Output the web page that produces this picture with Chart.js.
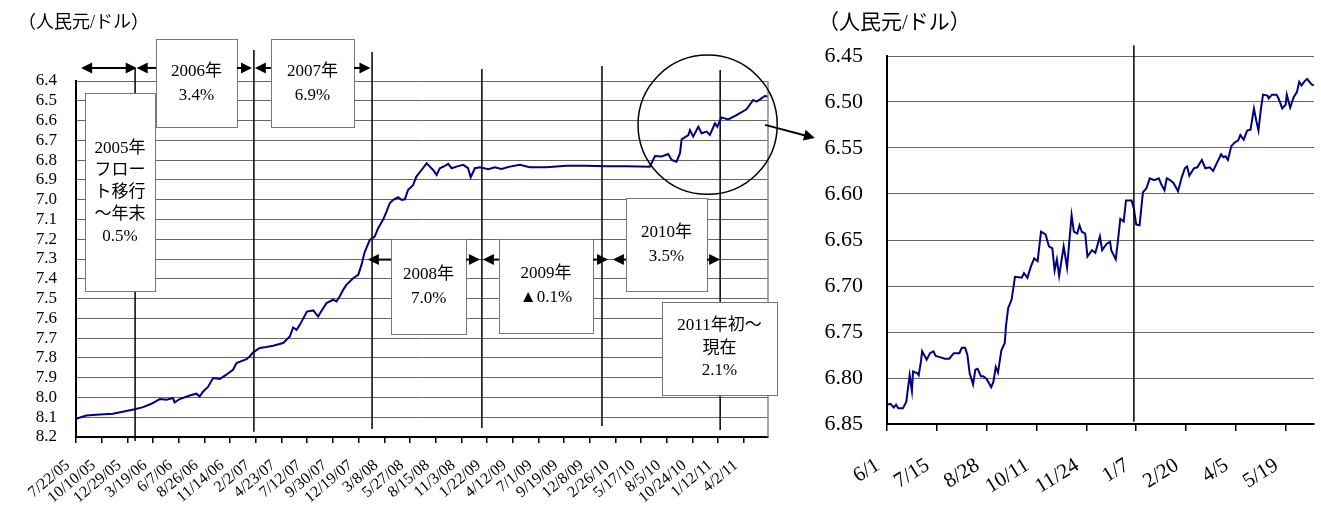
<!DOCTYPE html>
<html>
<head>
<meta charset="utf-8">
<script src="https://cdn.jsdelivr.net/npm/chart.js@4"></script>
<style>
  body { margin: 0; background: #fff; width: 1321px; height: 512px; position: relative; overflow: hidden; }
  canvas { position: absolute; top: 0; }
  #right { left: 800px; }
  #left { left: 0; }
</style>
</head>
<body>
<canvas id="right" width="521" height="512"></canvas>
<canvas id="left" width="820" height="512"></canvas>
<script>
// Left chart: days since 7/22/05, rate in yuan per dollar
var leftDays = [0, 32, 74, 115, 157, 183, 209, 235, 261, 282, 302, 307, 323, 354, 375, 385, 396, 411, 427, 448,
  468, 489, 500, 531, 541, 551, 572, 593, 614, 645, 666, 676, 687, 697, 719, 739, 754, 760, 780, 801,
  811, 821, 832, 842, 863, 879, 889, 899, 915, 930, 941, 956, 967, 977, 988, 1003, 1014, 1024, 1034, 1050,
  1060, 1076, 1092, 1102, 1112, 1123, 1133, 1149, 1159, 1170, 1185, 1206, 1221, 1229, 1242, 1258, 1284, 1304, 1325, 1351,
  1382, 1413, 1465, 1528, 1590, 1652, 1715, 1787, 1803, 1824, 1844, 1855, 1870, 1881, 1886, 1907, 1912, 1922, 1938, 1948,
  1964, 1974, 1990, 1997, 2010, 2031, 2057, 2088, 2109, 2120, 2130, 2145, 2155];
var leftRates = [8.108, 8.091, 8.086, 8.082, 8.069, 8.060, 8.049, 8.032, 8.008, 8.012, 8.003, 8.025, 8.008, 7.990, 7.981, 7.995, 7.970, 7.947, 7.902, 7.907,
  7.885, 7.860, 7.826, 7.806, 7.793, 7.773, 7.750, 7.745, 7.739, 7.725, 7.692, 7.646, 7.658, 7.633, 7.566, 7.560, 7.591, 7.574, 7.523, 7.506,
  7.515, 7.490, 7.456, 7.431, 7.397, 7.380, 7.330, 7.265, 7.203, 7.187, 7.144, 7.102, 7.060, 7.018, 7.001, 6.988, 7.001, 6.998, 6.951, 6.925,
  6.883, 6.850, 6.816, 6.833, 6.850, 6.875, 6.841, 6.829, 6.819, 6.841, 6.833, 6.824, 6.841, 6.887, 6.841, 6.836, 6.846, 6.836, 6.845, 6.833,
  6.824, 6.836, 6.836, 6.829, 6.829, 6.831, 6.831, 6.833, 6.779, 6.782, 6.769, 6.799, 6.808, 6.765, 6.695, 6.673, 6.648, 6.681, 6.631, 6.664,
  6.656, 6.673, 6.614, 6.631, 6.584, 6.594, 6.572, 6.543, 6.496, 6.504, 6.493, 6.476, 6.479];
var leftTickLabels = ['7/22/05', '10/10/05', '12/29/05', '3/19/06', '6/7/06', '8/26/06', '11/14/06', '2/2/07', '4/23/07',
  '7/12/07', '9/30/07', '12/19/07', '3/8/08', '5/27/08', '8/15/08', '11/3/08', '1/22/09', '4/12/09', '7/1/09',
  '9/19/09', '12/8/09', '2/26/10', '5/17/10', '8/5/10', '10/24/10', '1/12/11', '4/2/11'];
var leftYLabels = ['6.4', '6.5', '6.6', '6.7', '6.8', '6.9', '7.0', '7.1', '7.2', '7.3', '7.4', '7.5', '7.6', '7.7', '7.8', '7.9', '8.0', '8.1', '8.2'];

// Right chart: days since 6/1/10
var rightDays = [0, 3, 6, 8, 10, 14, 17, 20, 22, 23, 27, 28, 30, 31, 35, 38, 41, 43, 46, 51,
  55, 59, 64, 66, 69, 71, 73, 76, 78, 80, 83, 85, 88, 92, 94, 96, 98, 101, 104, 105,
  107, 110, 113, 119, 121, 124, 127, 130, 133, 136, 140, 143, 146, 148, 150, 152, 156, 159, 163, 165,
  168, 170, 172, 175, 177, 181, 184, 188, 190, 194, 197, 198, 202, 204, 206, 209, 211, 216, 218, 220,
  223, 226, 229, 232, 236, 240, 242, 245, 247, 250, 253, 257, 260, 263, 265, 267, 271, 274, 278, 281,
  285, 288, 291, 295, 297, 299, 301, 304, 307, 310, 312, 315, 318, 321, 324, 326, 328, 330, 332, 336,
  337, 340, 344, 346, 349, 352, 353, 356, 359, 362, 364, 366, 369, 371, 373, 375, 377];
var rightRates = [6.829, 6.828, 6.832, 6.829, 6.833, 6.833, 6.826, 6.797, 6.814, 6.793, 6.795, 6.797, 6.782, 6.771, 6.780, 6.773, 6.771, 6.776, 6.777, 6.779,
  6.779, 6.773, 6.773, 6.767, 6.767, 6.775, 6.795, 6.807, 6.791, 6.790, 6.798, 6.798, 6.801, 6.810, 6.804, 6.788, 6.794, 6.770, 6.762, 6.744,
  6.724, 6.715, 6.690, 6.691, 6.686, 6.691, 6.679, 6.670, 6.673, 6.641, 6.644, 6.657, 6.659, 6.683, 6.671, 6.689, 6.657, 6.680, 6.623, 6.641,
  6.643, 6.634, 6.641, 6.643, 6.668, 6.661, 6.664, 6.646, 6.661, 6.654, 6.652, 6.661, 6.671, 6.650, 6.627, 6.630, 6.607, 6.607, 6.616, 6.633,
  6.634, 6.598, 6.594, 6.583, 6.585, 6.583, 6.589, 6.596, 6.583, 6.585, 6.588, 6.597, 6.583, 6.572, 6.570, 6.580, 6.572, 6.571, 6.563, 6.572,
  6.571, 6.575, 6.567, 6.557, 6.560, 6.559, 6.563, 6.548, 6.544, 6.542, 6.536, 6.541, 6.531, 6.530, 6.507, 6.520, 6.531, 6.509, 6.492, 6.493,
  6.496, 6.492, 6.492, 6.497, 6.507, 6.503, 6.492, 6.506, 6.495, 6.489, 6.478, 6.482, 6.477, 6.475, 6.478, 6.481, 6.482];
var rightTickLabels = ['6/1', '7/15', '8/28', '10/11', '11/24', '1/7', '2/20', '4/5', '5/19'];
var rightYLabels = ['6.45', '6.50', '6.55', '6.60', '6.65', '6.70', '6.75', '6.80', '6.85'];

var unitTitle = '（人民元/ドル）';
var FONT = '"Liberation Serif", "Noto Sans CJK JP", serif';

// Annotations of the left chart (in days / rate units)
var periodBoxes = [
  { lines: ['2005年', 'フロー', 'ト移行', '～年末', '0.5%'], d0: 28, d1: 246, v0: 6.461, v1: 7.462, lh: 22 },
  { lines: ['2006年', '3.4%'], d0: 249, d1: 501, v0: 6.188, v1: 6.633, lh: 24 },
  { lines: ['2007年', '6.9%'], d0: 607, d1: 866, v0: 6.188, v1: 6.633, lh: 24 },
  { lines: ['2008年', '7.0%'], d0: 981, d1: 1215, v0: 7.199, v1: 7.679, lh: 24 },
  { lines: ['2009年', '▲0.1%'], d0: 1317, d1: 1610, v0: 7.199, v1: 7.674, lh: 24 },
  { lines: ['2010年', '3.5%'], d0: 1713, d1: 1965, v0: 6.992, v1: 7.462, lh: 24 },
  { lines: ['2011年初～', '現在', '2.1%'], d0: 1825, d1: 2183, v0: 7.517, v1: 7.988, lh: 22.5 }
];
var periodArrows = [
  { v: 6.334, a: 16, b: 189, left: true, right: true },
  { v: 6.334, a: 189, b: 249, left: true },
  { v: 6.334, a: 501, b: 548, right: true },
  { v: 6.334, a: 557, b: 607, left: true },
  { v: 6.334, a: 866, b: 917, right: true },
  { v: 7.303, a: 909, b: 981, left: true },
  { v: 7.303, a: 1215, b: 1258, right: true },
  { v: 7.303, a: 1267, b: 1317, left: true },
  { v: 7.303, a: 1610, b: 1657, right: true },
  { v: 7.303, a: 1672, b: 1713, left: true },
  { v: 7.303, a: 1965, b: 2006, right: true }
];
var yearLines = [
  { d: 184, v0: 6.334, v1: 8.22 },
  { d: 554, v0: 6.243, v1: 8.174 },
  { d: 922, v0: 6.253, v1: 8.159 },
  { d: 1264, v0: 6.339, v1: 8.154 },
  { d: 1638, v0: 6.324, v1: 8.144 },
  { d: 2006, v0: 6.344, v1: 8.164 }
];
var zoomCircle = { d: 1967, v: 6.621, r: 69.6 };
var zoomPointer = { d0: 2146, v0: 6.622, d1: 2301, v1: 6.688 };
var rightYearLine = { d: 218, v0: 6.4384, v1: 6.8475 };

function toPoints(days, rates) {
  return days.map(function (d, i) { return { x: d, y: rates[i] }; });
}

function arrowHead(ctx, x, y, dir) {
  ctx.beginPath();
  ctx.moveTo(x, y);
  ctx.lineTo(x - dir * 11, y - 5.5);
  ctx.lineTo(x - dir * 11, y + 5.5);
  ctx.closePath();
  ctx.fill();
}

function drawTitle(ctx, x, size) {
  ctx.save();
  ctx.fillStyle = '#000';
  ctx.font = size + 'px ' + FONT;
  ctx.textBaseline = 'middle';
  ctx.fillText(unitTitle, x, 23);
  ctx.restore();
}

// Year separators go under the line, boxes and arrows on top
var leftDecor = {
  id: 'leftDecor',
  beforeDatasetsDraw: function (chart) {
    var ctx = chart.ctx, x = chart.scales.x, y = chart.scales.y;
    ctx.save();
    ctx.strokeStyle = '#000';
    ctx.lineWidth = 1.5;
    yearLines.forEach(function (l) {
      var px = x.getPixelForValue(l.d);
      ctx.beginPath();
      ctx.moveTo(px, y.getPixelForValue(l.v0));
      ctx.lineTo(px, y.getPixelForValue(l.v1));
      ctx.stroke();
    });
    ctx.restore();
  },
  afterDraw: function (chart) {
    var ctx = chart.ctx, x = chart.scales.x, y = chart.scales.y, area = chart.chartArea;
    ctx.save();
    // right frame of the plot
    ctx.strokeStyle = '#888';
    ctx.lineWidth = 1.5;
    ctx.beginPath();
    ctx.moveTo(area.right, area.top);
    ctx.lineTo(area.right, area.bottom);
    ctx.stroke();

    // boxes with the yearly change
    periodBoxes.forEach(function (b) {
      var x0 = x.getPixelForValue(b.d0), x1 = x.getPixelForValue(b.d1);
      var y0 = y.getPixelForValue(b.v0), y1 = y.getPixelForValue(b.v1);
      ctx.fillStyle = '#fff';
      ctx.fillRect(x0, y0, x1 - x0, y1 - y0);
      ctx.strokeStyle = '#777';
      ctx.lineWidth = 1;
      ctx.strokeRect(Math.round(x0) + 0.5, Math.round(y0) + 0.5, Math.round(x1 - x0), Math.round(y1 - y0));
      ctx.fillStyle = '#000';
      ctx.font = '17px ' + FONT;
      ctx.textAlign = 'center';
      ctx.textBaseline = 'middle';
      var cy = (y0 + y1) / 2 - (b.lines.length - 1) * b.lh / 2;
      b.lines.forEach(function (t, i) {
        ctx.fillText(t, (x0 + x1) / 2, cy + i * b.lh);
      });
    });

    // period arrows
    ctx.strokeStyle = '#000';
    ctx.fillStyle = '#000';
    ctx.lineWidth = 2;
    periodArrows.forEach(function (a) {
      var xa = x.getPixelForValue(a.a), xb = x.getPixelForValue(a.b), py = y.getPixelForValue(a.v);
      ctx.beginPath();
      ctx.moveTo(xa + (a.left ? 6 : 0), py);
      ctx.lineTo(xb - (a.right ? 6 : 0), py);
      ctx.stroke();
      if (a.left) arrowHead(ctx, xa, py, -1);
      if (a.right) arrowHead(ctx, xb, py, 1);
    });

    // circle around the recent period and its pointer
    ctx.lineWidth = 1.5;
    ctx.beginPath();
    ctx.arc(x.getPixelForValue(zoomCircle.d), y.getPixelForValue(zoomCircle.v), zoomCircle.r, 0, Math.PI * 2);
    ctx.stroke();
    var px0 = x.getPixelForValue(zoomPointer.d0), py0 = y.getPixelForValue(zoomPointer.v0);
    var px1 = x.getPixelForValue(zoomPointer.d1), py1 = y.getPixelForValue(zoomPointer.v1);
    var ang = Math.atan2(py1 - py0, px1 - px0);
    ctx.lineWidth = 2;
    ctx.beginPath();
    ctx.moveTo(px0, py0);
    ctx.lineTo(px1 - 8 * Math.cos(ang), py1 - 8 * Math.sin(ang));
    ctx.stroke();
    ctx.translate(px1, py1);
    ctx.rotate(ang);
    arrowHead(ctx, 0, 0, 1);
    ctx.restore();

    drawTitle(ctx, 18, 18);
  }
};

var rightDecor = {
  id: 'rightDecor',
  afterDraw: function (chart) {
    var ctx = chart.ctx, x = chart.scales.x, y = chart.scales.y;
    ctx.save();
    ctx.strokeStyle = '#000';
    ctx.lineWidth = 1.5;
    var px = x.getPixelForValue(rightYearLine.d);
    ctx.beginPath();
    ctx.moveTo(px, y.getPixelForValue(rightYearLine.v0));
    ctx.lineTo(px, y.getPixelForValue(rightYearLine.v1));
    ctx.stroke();
    ctx.restore();
    drawTitle(ctx, 18, 21);
  }
};

function tickFont(size) {
  return { family: FONT, size: size };
}

new Chart(document.getElementById('left'), {
  type: 'line',
  data: {
    datasets: [{
      data: toPoints(leftDays, leftRates),
      borderColor: '#000080',
      borderWidth: 2,
      pointRadius: 0,
      tension: 0
    }]
  },
  options: {
    responsive: false,
    animation: false,
    layout: { padding: { left: 0, top: 81, right: 52, bottom: 0 } },
    plugins: { legend: { display: false }, tooltip: { enabled: false } },
    scales: {
      x: {
        type: 'linear',
        min: 0,
        max: 2155,
        afterBuildTicks: function (s) {
          s.ticks = leftTickLabels.map(function (_, i) { return { value: i * 80 }; });
        },
        afterFit: function (s) { s.height = 75; },
        grid: { drawOnChartArea: false, drawTicks: true, tickLength: 6, color: '#000', lineWidth: 1.5 },
        border: { color: '#000', width: 2 },
        ticks: {
          autoSkip: false, minRotation: 40, maxRotation: 40, padding: 13, labelOffset: -8,
          color: '#000', font: tickFont(16),
          callback: function (v, i) { return leftTickLabels[i]; }
        }
      },
      y: {
        min: 6.4,
        max: 8.2,
        reverse: true,
        afterBuildTicks: function (s) {
          s.ticks = leftYLabels.map(function (t) { return { value: parseFloat(t) }; });
        },
        afterFit: function (s) { s.width = 76; },
        grid: { color: '#666', lineWidth: 1, drawTicks: false },
        border: { color: '#000', width: 2 },
        ticks: {
          autoSkip: false, padding: 19, color: '#000', font: tickFont(17),
          callback: function (v, i) { return leftYLabels[i]; }
        }
      }
    }
  },
  plugins: [leftDecor]
});

new Chart(document.getElementById('right'), {
  type: 'line',
  data: {
    datasets: [{
      data: toPoints(rightDays, rightRates),
      borderColor: '#000080',
      borderWidth: 2,
      pointRadius: 0,
      tension: 0
    }]
  },
  options: {
    responsive: false,
    animation: false,
    layout: { padding: { left: 0, top: 56, right: 0, bottom: 0 } },
    plugins: { legend: { display: false }, tooltip: { enabled: false } },
    scales: {
      x: {
        type: 'linear',
        min: 0,
        max: 377,
        afterBuildTicks: function (s) {
          s.ticks = rightTickLabels.map(function (_, i) { return { value: i * 44 }; });
        },
        afterFit: function (s) { s.height = 88; },
        grid: { drawOnChartArea: false, drawTicks: true, tickLength: 7, color: '#000', lineWidth: 1.5 },
        border: { color: '#000', width: 2 },
        ticks: {
          autoSkip: false, minRotation: 32, maxRotation: 32, padding: 22, labelOffset: -9,
          color: '#000', font: tickFont(21),
          callback: function (v, i) { return rightTickLabels[i]; }
        }
      },
      y: {
        min: 6.45,
        max: 6.85,
        reverse: true,
        afterBuildTicks: function (s) {
          s.ticks = rightYLabels.map(function (t) { return { value: parseFloat(t) }; });
        },
        afterFit: function (s) { s.width = 87; },
        grid: { color: '#666', lineWidth: 1, drawTicks: false },
        border: { color: '#000', width: 2 },
        ticks: {
          autoSkip: false, padding: 24, color: '#000', font: tickFont(22),
          callback: function (v, i) { return rightYLabels[i]; }
        }
      }
    }
  },
  plugins: [rightDecor]
});
</script>
</body>
</html>
